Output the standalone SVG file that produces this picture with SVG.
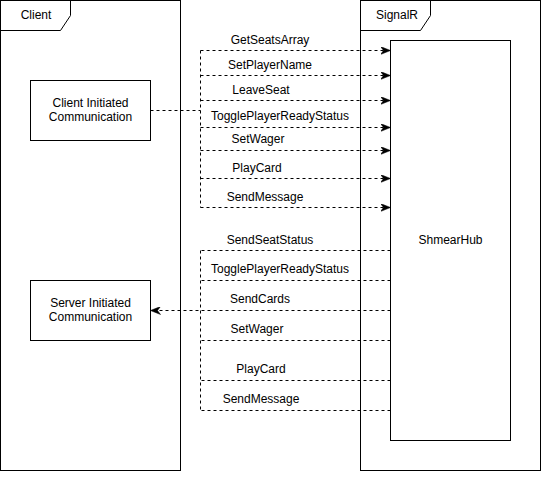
<svg xmlns="http://www.w3.org/2000/svg" width="560" height="488" viewBox="0 0 560 488">
<style>
.box{fill:#fff;stroke:#000;stroke-width:1}
.frame{fill:none;stroke:#000;stroke-width:1}
.dash{fill:none;stroke:#000;stroke-width:1;stroke-dasharray:3 3}
text{font-family:"Liberation Sans",Arial,sans-serif;font-size:12px;fill:#000;text-anchor:middle;dominant-baseline:central}
</style>
<defs>
<marker id="arr" markerWidth="10" markerHeight="8" refX="10" refY="4" orient="auto" markerUnits="userSpaceOnUse">
<path d="M0,0 L10,4 L0,8 L3,4 Z" fill="#000" stroke="#000" stroke-width="0.5"/>
</marker>
</defs>
<rect width="560" height="488" fill="#fff"/>
<g id="client-frame">
<rect class="frame" x="0.5" y="0.5" width="180" height="470"/>
<path class="frame" d="M0.5,30.5 L60.5,30.5 L70.5,15.5 L70.5,0.5"/>
<text x="36" y="15">Client</text>
</g>
<g id="signalr-frame">
<rect class="frame" x="360.5" y="0.5" width="180" height="470"/>
<path class="frame" d="M360.5,30.5 L420.5,30.5 L430.5,15.5 L430.5,0.5"/>
<text x="397" y="15">SignalR</text>
</g>
<g id="shmearhub">
<rect class="box" x="390.5" y="40.5" width="120" height="400"/>
<text x="450.5" y="240">ShmearHub</text>
</g>
<g id="client-initiated">
<rect class="box" x="30.5" y="80.5" width="120" height="60"/>
<text x="90.5" y="103">Client Initiated</text>
<text x="90.5" y="117">Communication</text>
</g>
<g id="server-initiated">
<rect class="box" x="30.5" y="280.5" width="120" height="60"/>
<text x="90.5" y="303">Server Initiated</text>
<text x="90.5" y="317">Communication</text>
</g>
<g id="connectors">
<path class="dash" d="M150.5,110.5 L200.5,110.5"/>
<path class="dash" d="M200.5,50.5 L200.5,207.5"/>
<path class="dash" marker-end="url(#arr)" d="M200.5,50.5 L390.5,50.5"/>
<path class="dash" marker-end="url(#arr)" d="M200.5,75.5 L390.5,75.5"/>
<path class="dash" marker-end="url(#arr)" d="M200.5,100.5 L390.5,100.5"/>
<path class="dash" marker-end="url(#arr)" d="M200.5,127.5 L390.5,127.5"/>
<path class="dash" marker-end="url(#arr)" d="M200.5,150.5 L390.5,150.5"/>
<path class="dash" marker-end="url(#arr)" d="M200.5,178.5 L390.5,178.5"/>
<path class="dash" marker-end="url(#arr)" d="M200.5,207.5 L390.5,207.5"/>
<path class="dash" d="M200.5,250.5 L200.5,410.5"/>
<path class="dash" d="M390.5,250.5 L200.5,250.5"/>
<path class="dash" d="M390.5,280.5 L200.5,280.5"/>
<path class="dash" marker-end="url(#arr)" d="M390.5,310.5 L150.5,310.5"/>
<path class="dash" d="M390.5,340.5 L200.5,340.5"/>
<path class="dash" d="M390.5,380.5 L200.5,380.5"/>
<path class="dash" d="M390.5,410.5 L200.5,410.5"/>
</g>
<g id="labels">
<text x="270" y="40">GetSeatsArray</text>
<text x="270" y="65">SetPlayerName</text>
<text x="261" y="90">LeaveSeat</text>
<text x="280" y="116">TogglePlayerReadyStatus</text>
<text x="258" y="139">SetWager</text>
<text x="257" y="168">PlayCard</text>
<text x="265" y="197">SendMessage</text>
<text x="270" y="240">SendSeatStatus</text>
<text x="280" y="269">TogglePlayerReadyStatus</text>
<text x="260" y="299">SendCards</text>
<text x="257" y="329">SetWager</text>
<text x="261" y="369">PlayCard</text>
<text x="261" y="399">SendMessage</text>
</g>
</svg>
